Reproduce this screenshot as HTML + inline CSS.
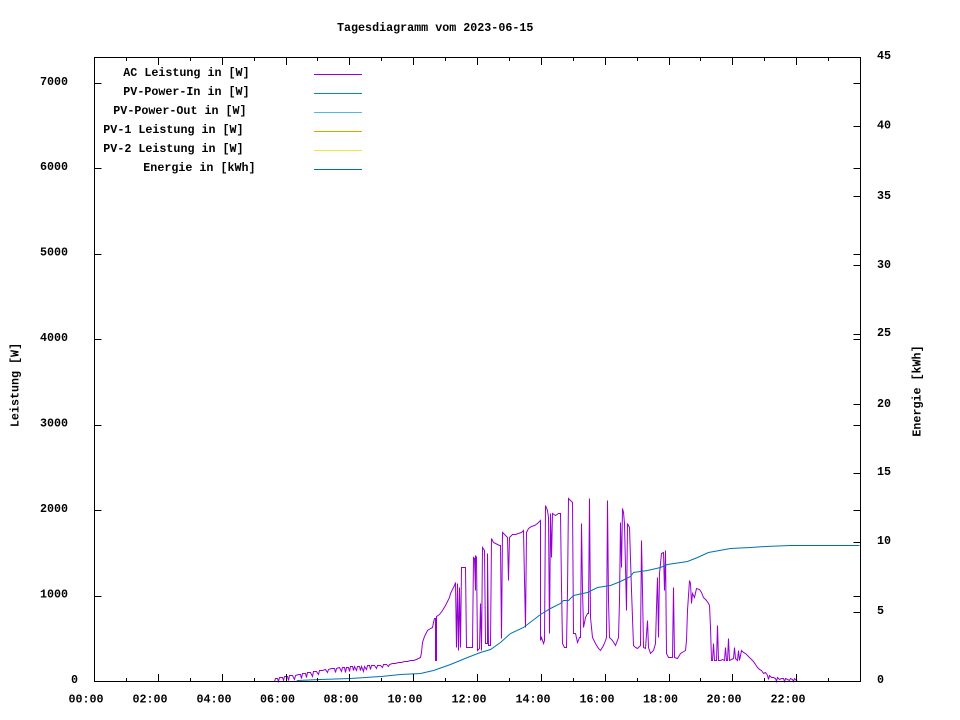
<!DOCTYPE html>
<html><head><meta charset="utf-8"><style>
html,body{margin:0;padding:0;background:#fff;}
svg{display:block;}
text{font-family:"Liberation Mono","DejaVu Sans Mono",monospace;font-weight:bold;font-size:11.7px;fill:#000;}
</style></head><body>
<svg width="960" height="720" viewBox="0 0 960 720" xmlns="http://www.w3.org/2000/svg">
<rect width="960" height="720" fill="#fff"/>
<text x="337" y="31">Tagesdiagramm vom 2023-06-15</text>

<!-- data -->
<g transform="translate(0.5,0.5)" fill="none" stroke-width="1">
<polyline stroke="#9400d3" points="274,681 275,678 277,678 278,681 279,677 282,677 283,680 284,676 287,676 288,680 289,675 292,675 294,679 295,675 298,674 300,674 301,678 302,673 305,673 306,677 307,672 310,672 312,676 313,671 316,671 318,674 319,670 322,670 325,669 327,672 328,669 331,668 334,668 335,672 336,668 339,667 341,671 342,667 344,667 345,672 346,667 348,667 349,671 350,666 352,666 353,670 354,666 356,670 357,666 359,666 360,670 361,666 363,671 364,666 366,669 367,665 369,665 370,669 371,665 374,665 376,668 377,665 380,665 382,667 383,664 386,664 388,666 389,664 392,663 395,663 398,662 401,662 404,661 407,661 410,660 413,660 416,659 418,658 420,657 421,652 422,642 424,636 427,630 430,628 432,627 433,622 434,618 435,618 435,660 436,660 436,616 439,614 442,610 445,605 447,601 449,597 450,593 452,589 454,585 455,582 456,647 457,583 458,650 459,587 460,647 461,567 463,567 465,567 466,647 468,647 470,647 472,647 473,557 474,558 475,590 475,555 476,557 477,650 479,648 480,603 481,650 482,547 484,550 485,643 487,643 487,553 488,645 490,645 491,538 493,542 495,543 497,544 499,545 500,545 501,638 502,532 505,535 507,537 508,580 509,537 512,534 515,534 518,533 521,532 523,530 524,580 525,627 526,532 528,528 531,526 534,525 537,523 539,521 540,520 540,640 541,637 543,643 544,640 545,505 547,510 548,517 549,633 550,513 551,557 552,513 555,515 558,513 560,513 561,587 562,643 564,647 566,647 567,590 568,498 570,500 572,502 573,633 575,633 577,642 579,637 580,637 581,523 582,590 583,627 585,617 587,613 588,613 589,498 590,617 592,637 595,643 598,648 600,650 603,645 605,640 606,637 607,500 608,600 609,637 612,640 615,645 618,637 619,600 620,522 621,567 622,508 623,512 624,523 626,610 627,523 629,527 631,590 633,645 635,647 637,648 640,645 641,540 642,590 643,647 645,648 647,620 648,647 650,653 653,650 655,643 656,607 657,577 658,637 659,573 661,553 663,552 664,590 665,550 666,653 668,657 670,657 672,657 673,587 674,657 677,658 680,653 685,650 686,640 687,610 689,580 690,583 691,603 692,593 694,597 696,588 699,589 701,592 703,597 706,600 708,603 709,605 710,627 711,660 712,660 713,643 714,660 716,660 717,625 718,660 720,660 722,659 724,660 725,647 726,660 727,660 728,638 729,660 731,659 733,658 734,647 735,658 737,660 738,650 739,660 741,650 743,652 745,653 747,655 749,657 751,659 753,661 755,664 757,667 759,669 761,670 763,673 765,672 767,675 768,679 769,675 771,677 773,677 775,678 776,681 777,677 779,679 781,678 783,678 784,681 785,678 787,679 789,680 790,678 792,679 793,681 794,678 796,680 797,681"/>
<polyline stroke="#0072b2" points="296,681 297,680 320,679 350,678 380,676 400,674 420,673 433,670 450,664 467,657 480,652 490,649 500,642 510,633 523,627 540,614 550,608 560,603 563,600 568,600 573,595 587,592 597,587 610,585 620,581 630,576 633,572 647,570 660,567 667,564 687,561 697,557 708,552 730,548 750,547 765,546 790,545 859,545"/>
</g>

<!-- border & ticks -->
<g stroke="#000" stroke-width="1" fill="none" shape-rendering="crispEdges">
<rect x="94.5" y="57.5" width="766" height="624"/>
<path d="M94.5 596.5h7M94.5 510.5h7M94.5 425.5h7M94.5 339.5h7M94.5 254.5h7M94.5 168.5h7M94.5 83.5h7
M860.5 596.5h-7M860.5 510.5h-7M860.5 425.5h-7M860.5 339.5h-7M860.5 254.5h-7M860.5 168.5h-7M860.5 83.5h-7
M860.5 126.5h-7M860.5 196.5h-7M860.5 265.5h-7M860.5 334.5h-7M860.5 404.5h-7M860.5 473.5h-7M860.5 542.5h-7M860.5 612.5h-7
M158.5 681v-7M222.5 681v-7M286.5 681v-7M349.5 681v-7M413.5 681v-7M477.5 681v-7M541.5 681v-7M605.5 681v-7M669.5 681v-7M732.5 681v-7M796.5 681v-7
M126.5 681v-3M190.5 681v-3M254.5 681v-3M317.5 681v-3M381.5 681v-3M445.5 681v-3M509.5 681v-3M573.5 681v-3M637.5 681v-3M700.5 681v-3M764.5 681v-3M828.5 681v-3
M158.5 58v7M222.5 58v7M286.5 58v7M349.5 58v7M413.5 58v7M477.5 58v7M541.5 58v7M605.5 58v7M669.5 58v7M732.5 58v7M796.5 58v7
M126.5 58v3M190.5 58v3M254.5 58v3M317.5 58v3M381.5 58v3M445.5 58v3M509.5 58v3M573.5 58v3M637.5 58v3M700.5 58v3M764.5 58v3M828.5 58v3"/>
</g>

<!-- left tick labels -->
<text x="40" y="85">7000</text>
<text x="40" y="170">6000</text>
<text x="40" y="255.5">5000</text>
<text x="40" y="341">4000</text>
<text x="40" y="426.5">3000</text>
<text x="40" y="512">2000</text>
<text x="40" y="597.5">1000</text>
<text x="71" y="683">0</text>

<!-- right tick labels -->
<text x="877" y="59">45</text>
<text x="877" y="128.5">40</text>
<text x="877" y="199">35</text>
<text x="877" y="268">30</text>
<text x="877" y="336">25</text>
<text x="877" y="407">20</text>
<text x="877" y="475">15</text>
<text x="877" y="544">10</text>
<text x="877" y="614">5</text>
<text x="877" y="683">0</text>

<!-- x tick labels -->
<text x="68.5" y="702.5">00:00</text>
<text x="132.5" y="702.5">02:00</text>
<text x="196.5" y="702.5">04:00</text>
<text x="260" y="702.5">06:00</text>
<text x="323.5" y="702.5">08:00</text>
<text x="387.5" y="702.5">10:00</text>
<text x="451.5" y="702.5">12:00</text>
<text x="515.5" y="702.5">14:00</text>
<text x="579.5" y="702.5">16:00</text>
<text x="643" y="702.5">18:00</text>
<text x="706.5" y="702.5">20:00</text>
<text x="770.5" y="702.5">22:00</text>

<!-- axis titles -->
<text transform="translate(18.5,385) rotate(-90)" text-anchor="middle">Leistung [W]</text>
<text transform="translate(920.5,391) rotate(-90)" text-anchor="middle">Energie [kWh]</text>

<!-- legend -->
<text x="123.3" y="76">AC Leistung in [W]</text>
<text x="123.3" y="95">PV-Power-In in [W]</text>
<text x="113.3" y="114">PV-Power-Out in [W]</text>
<text x="103.3" y="133">PV-1 Leistung in [W]</text>
<text x="103.3" y="152">PV-2 Leistung in [W]</text>
<text x="143.3" y="171">Energie in [kWh]</text>
<g stroke-width="1" shape-rendering="crispEdges">
<line x1="314" y1="74.5" x2="362" y2="74.5" stroke="#9400d3"/>
<line x1="314" y1="93.5" x2="362" y2="93.5" stroke="#009e73"/>
<line x1="314" y1="112.5" x2="362" y2="112.5" stroke="#56b4e9"/>
<line x1="314" y1="131.5" x2="362" y2="131.5" stroke="#e69f00"/>
<line x1="314" y1="150.5" x2="362" y2="150.5" stroke="#f0e442"/>
<line x1="314" y1="169.5" x2="362" y2="169.5" stroke="#0072b2"/>
</g>
</svg>
</body></html>
